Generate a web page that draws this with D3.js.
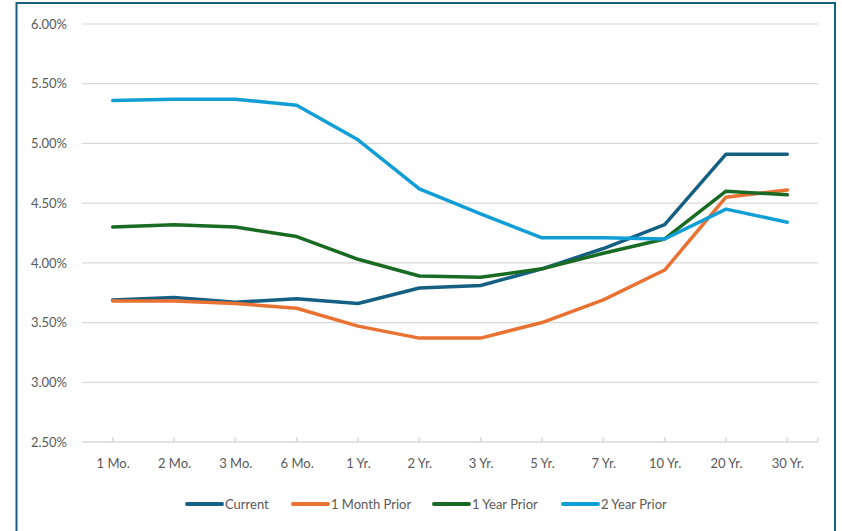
<!DOCTYPE html>
<html>
<head>
<meta charset="utf-8">
<script src="https://cdn.jsdelivr.net/npm/d3@7/dist/d3.min.js"></script>
<style>
  html, body { margin: 0; padding: 0; background: #fff; }
  svg { display: block; }
  text { font-family: Lato, "Open Sans", sans-serif; fill: #595959; }
</style>
</head>
<body>
<svg id="chart" width="842" height="531"></svg>
<script>
// Treasury yield curve snapshots (percent)
const maturities = ["1 Mo.", "2 Mo.", "3 Mo.", "6 Mo.", "1 Yr.", "2 Yr.", "3 Yr.", "5 Yr.", "7 Yr.", "10 Yr.", "20 Yr.", "30 Yr."];
const current        = [3.69, 3.71, 3.67, 3.70, 3.66, 3.79, 3.81, 3.95, 4.12, 4.32, 4.91, 4.91];
const oneMonthPrior  = [3.68, 3.68, 3.66, 3.62, 3.47, 3.37, 3.37, 3.50, 3.69, 3.94, 4.55, 4.61];
const oneYearPrior   = [4.30, 4.32, 4.30, 4.22, 4.03, 3.89, 3.88, 3.95, 4.08, 4.20, 4.60, 4.57];
const twoYearPrior   = [5.36, 5.37, 5.37, 5.32, 5.03, 4.62, 4.41, 4.21, 4.21, 4.20, 4.45, 4.34];
const seriesNames    = ["Current", "1 Month Prior", "1 Year Prior", "2 Year Prior"];
const yTicks         = [2.5, 3.0, 3.5, 4.0, 4.5, 5.0, 5.5, 6.0];

const colors = ["#156082", "#E97132", "#196B24", "#0F9ED5"];
const series = [current, oneMonthPrior, oneYearPrior, twoYearPrior].map((values, i) => ({
  name: seriesNames[i], values, color: colors[i]
}));

const svg = d3.select("#chart");

// chart frame
svg.append("rect")
  .attr("x", 16.5).attr("y", 3).attr("width", 818.5).attr("height", 540)
  .attr("fill", "#fff").attr("stroke", "#156082").attr("stroke-width", 2);

const plotLeft = 82, plotRight = 818, plotTop = 24, plotBottom = 442;

const x = d3.scalePoint().domain(maturities).range([plotLeft, plotRight]).padding(0.5);
const y = d3.scaleLinear().domain([2.5, 6.0]).range([plotBottom, plotTop]);

// horizontal gridlines
svg.append("g").selectAll("line").data(yTicks.filter(t => t > 2.5)).join("line")
  .attr("x1", plotLeft).attr("x2", plotRight)
  .attr("y1", d => y(d)).attr("y2", d => y(d))
  .attr("stroke", "#d9d9d9").attr("stroke-width", 1.2);

// y axis labels
const yAxis = d3.axisLeft(y).tickValues(yTicks).tickSize(0).tickPadding(15)
  .tickFormat(d => d.toFixed(2) + "%");
const gy = svg.append("g").attr("transform", `translate(${plotLeft},0)`).call(yAxis);
gy.select(".domain").remove();
gy.selectAll("text").attr("font-size", 13).style("fill", "#595959")
  .style("font-family", "Lato, 'Open Sans', sans-serif");

// x axis: baseline, inward ticks at categories, labels below
const xAxis = d3.axisBottom(x).tickSize(0).tickPadding(17);
const gx = svg.append("g").attr("transform", `translate(0,${plotBottom})`).call(xAxis);
gx.select(".domain").remove();
gx.selectAll("text").attr("font-size", 13).style("fill", "#595959")
  .style("font-family", "Lato, 'Open Sans', sans-serif");
svg.append("line")
  .attr("x1", plotLeft).attr("x2", plotRight).attr("y1", plotBottom).attr("y2", plotBottom)
  .attr("stroke", "#d9d9d9").attr("stroke-width", 1.5);
svg.append("g").selectAll("line").data([...maturities.map(m => x(m)), plotRight]).join("line")
  .attr("x1", d => d).attr("x2", d => d)
  .attr("y1", plotBottom).attr("y2", plotBottom - 5)
  .attr("stroke", "#d9d9d9").attr("stroke-width", 1.5);

// yield curves
const line = d3.line().x((d, i) => x(maturities[i])).y(d => y(d));
svg.append("g").selectAll("path").data(series).join("path")
  .attr("d", d => line(d.values))
  .attr("fill", "none")
  .attr("stroke", d => d.color)
  .attr("stroke-width", 3.5)
  .attr("stroke-linejoin", "round")
  .attr("stroke-linecap", "round");

// legend
const legendX = [187, 293, 434, 563];
const lg = svg.append("g").selectAll("g").data(series).join("g")
  .attr("transform", (d, i) => `translate(${legendX[i]},504)`);
lg.append("line").attr("x1", 0).attr("x2", 35).attr("y1", 0).attr("y2", 0)
  .attr("stroke", d => d.color).attr("stroke-width", 4).attr("stroke-linecap", "round");
lg.append("text").attr("x", 38).attr("y", 4.5).attr("font-size", 13)
  .text(d => d.name);
</script>
</body>
</html>
